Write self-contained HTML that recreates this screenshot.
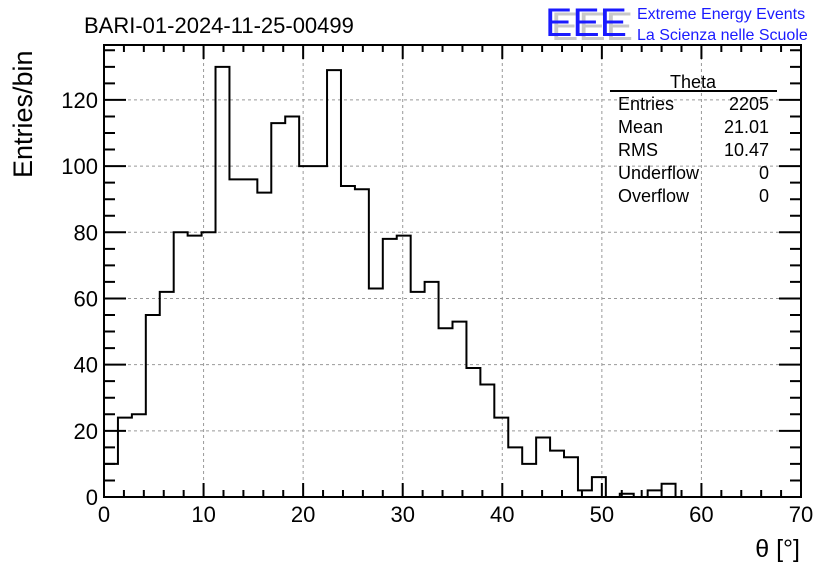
<!DOCTYPE html>
<html><head><meta charset="utf-8"><style>
body{margin:0;background:#fff;font-family:"Liberation Sans",sans-serif}
svg text{font-family:"Liberation Sans",sans-serif}
</style></head><body>
<svg id="chart" width="836" height="572">
<rect width="836" height="572" fill="#fff"/>
<g id="grid"></g>
<g id="axes"></g>
<path id="hist" fill="none" stroke="#000" stroke-width="2"/>
<text x="84" y="33" font-size="22">BARI-01-2024-11-25-00499</text>
<g>
<text x="551" y="40" font-size="40" fill="#c8c8c8" textLength="82" lengthAdjust="spacingAndGlyphs">EEE</text>
<text x="545" y="36" font-size="40" fill="#1a1aff" textLength="82" lengthAdjust="spacingAndGlyphs">EEE</text>
</g>
<text x="637" y="19" font-size="16" fill="#1a1aff">Extreme Energy Events</text>
<text x="637" y="40" font-size="16" fill="#1a1aff">La Scienza nelle Scuole</text>
<text transform="translate(32,178) rotate(-90)" font-size="27">Entries/bin</text>
<text x="800" y="557" font-size="25" text-anchor="end">θ [°]</text>
<g font-size="18">
<line x1="610" y1="91" x2="777" y2="91" stroke="#000" stroke-width="2"/>
<text x="693" y="88" text-anchor="middle">Theta</text>
<text x="618" y="110">Entries</text><text x="769" y="110" text-anchor="end">2205</text>
<text x="618" y="133">Mean</text><text x="769" y="133" text-anchor="end">21.01</text>
<text x="618" y="156">RMS</text><text x="769" y="156" text-anchor="end">10.47</text>
<text x="618" y="179">Underflow</text><text x="769" y="179" text-anchor="end">0</text>
<text x="618" y="202">Overflow</text><text x="769" y="202" text-anchor="end">0</text>
</g>
</svg>
<script>
const counts=[10,24,25,55,62,80,79,80,130,96,96,92,113,115,100,100,129,94,93,63,78,79,62,65,51,53,39,34,24,15,10,18,14,12,2,6,0,1,0,2,4,0,0,0,0,0,0,0,0,0];
const binWidth=1.4;
const xTicks=[0,10,20,30,40,50,60,70];
const yTicks=[0,20,40,60,80,100,120];
const X0=104,X1=801,Y0=497,Y1=45;
const YMAX=136.6;
const sx=v=>X0+(v-0)/70*(X1-X0);
const sy=v=>Y0-v/YMAX*(Y0-Y1);
const NS="http://www.w3.org/2000/svg";
const grid=document.getElementById('grid'),axes=document.getElementById('axes');
function mk(tag,attrs,parent){const e=document.createElementNS(NS,tag);for(const k in attrs)e.setAttribute(k,attrs[k]);parent.appendChild(e);return e;}
xTicks.forEach(t=>{
 if(t>0&&t<70){const l=mk('line',{x1:sx(t),x2:sx(t),y1:Y1,y2:Y0,stroke:'#999','stroke-dasharray':'3,3'},grid);
 
 }
 const tx=mk('text',{x:sx(t),y:522,'font-size':22,'text-anchor':'middle'},axes);tx.textContent=t;
 
 
});
yTicks.forEach(t=>{
 if(t>0){const l=mk('line',{x1:X0,x2:X1,y1:sy(t),y2:sy(t),stroke:'#999','stroke-dasharray':'3,3'},grid);
 
 }
 const tx=mk('text',{x:98,y:sy(t)+8,'font-size':22,'text-anchor':'end'},axes);tx.textContent=t;
 
 
});
let tk='';
for(let v=0;v<=70;v+=2){const L=v%10===0?14:7;tk+=`M${sx(v)},${Y0}v${-L}M${sx(v)},${Y1}v${L}`;}
for(let v=0;v<=135;v+=5){const L=v%20===0?22:11;tk+=`M${X0},${sy(v)}h${L}M${X1},${sy(v)}h${-L}`;}
const ticks=mk('path',{d:tk,stroke:'#000','stroke-width':2,fill:'none'},axes);


const frame=mk('rect',{x:X0,y:Y1,width:X1-X0,height:Y0-Y1,fill:'none',stroke:'#000','stroke-width':2},axes);


let d=`M${sx(0)},${sy(0)}`;
counts.forEach((c,i)=>{d+=`V${sy(c)}H${sx((i+1)*binWidth)}`;});
d+=`V${sy(0)}`;
document.getElementById('hist').setAttribute('d',d);
</script>
</body></html>
